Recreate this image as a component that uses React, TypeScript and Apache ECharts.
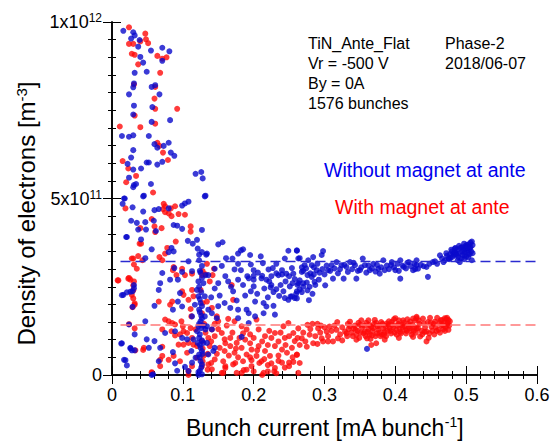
import React, { useEffect, useRef } from "react";
import * as echarts from "echarts";

// y values in units of 1e11 m^-3, x in mA/bunch
const xTicks = [0, 0.1, 0.2, 0.3, 0.4, 0.5, 0.6];
const yTickLabels: Record<number, string> = { 0: "0", 5: "{b|5x10}{s|11}", 10: "{b|1x10}{s|12}" };
const blueMean = 3.21;
const redMean = 1.41;
const meanLineStart = 0.012;

const withoutMagnet: number[][] = [
  [0.016,9.75],[0.030,9.71],[0.032,9.62],[0.027,9.53],[0.039,9.49],[0.037,9.30],[0.055,9.19],[0.071,9.27],[0.081,9.17],[0.040,9.01],[0.044,8.85],[0.071,8.90],[0.032,8.56],[0.049,8.59],[0.031,8.26],[0.030,8.15],[0.056,8.16],[0.061,8.21],[0.024,7.95],[0.067,7.95],[0.031,7.63],[0.057,7.59],[0.030,7.38],[0.056,7.17],[0.082,7.22],[0.014,6.77],[0.024,6.75],[0.030,6.79],[0.052,6.77],[0.060,6.54],[0.064,6.44],[0.073,6.49],[0.080,6.58],[0.030,6.37],[0.027,6.16],[0.083,6.30],[0.088,6.21],[0.022,5.98],[0.049,6.02],[0.052,6.02],[0.064,5.96],[0.071,6.04],[0.030,5.82],[0.041,5.85],[0.024,5.59],[0.118,5.70],[0.126,5.75],[0.128,5.57],[0.031,5.38],[0.030,5.32],[0.055,5.41],[0.131,5.06],[0.017,5.00],[0.044,5.06],
  [0.034,5.41],[0.045,5.08],[0.015,4.85],[0.029,4.75],[0.044,4.63],[0.060,4.67],[0.066,4.70],[0.080,4.72],[0.099,4.80],[0.103,4.86],[0.108,4.91],[0.027,4.37],[0.035,4.31],[0.047,4.33],[0.059,4.37],[0.087,4.25],[0.092,4.23],[0.099,4.14],[0.127,4.11],[0.037,4.12],[0.048,4.12],[0.062,4.08],[0.020,3.91],[0.041,3.84],[0.107,3.80],[0.120,3.83],[0.084,3.60],[0.114,3.72],[0.056,3.56],[0.080,3.48],[0.087,3.50],[0.121,3.58],[0.127,3.48],[0.123,3.41],[0.047,3.31],[0.123,3.25],[0.133,3.41],[0.108,3.22],[0.127,3.09],[0.088,3.03],[0.071,2.89],[0.099,2.92],[0.125,2.90],[0.113,2.94],[0.132,2.83],
  [0.132,5.08],[0.150,3.70],[0.156,3.76],[0.134,3.44],[0.178,3.44],[0.182,3.53],[0.185,3.56],[0.161,3.31],[0.210,3.36],[0.249,3.52],[0.261,3.52],[0.244,3.30],[0.263,3.30],[0.155,3.09],[0.178,3.15],[0.196,3.13],[0.213,3.17],[0.232,3.15],[0.254,3.03],[0.145,3.01],[0.173,2.99],[0.182,2.97],[0.200,2.97],[0.221,2.99],[0.227,3.03],[0.240,2.97],[0.246,2.87],[0.256,2.87],[0.191,2.80],[0.200,2.81],[0.212,2.81],[0.235,2.83],[0.136,2.83],
  [0.016,2.27],[0.021,2.34],[0.029,2.37],[0.031,2.55],[0.060,1.96],[0.086,1.85],[0.093,2.08],[0.099,1.94],[0.068,2.60],[0.066,2.41],[0.082,2.70],[0.122,2.65],[0.120,2.41],[0.122,2.23],[0.125,2.04],[0.123,1.85],[0.126,1.68],[0.125,1.52],[0.122,1.38],[0.120,1.24],[0.123,1.05],[0.121,0.91],[0.125,0.77],[0.123,0.58],[0.125,0.39],[0.126,0.21],[0.127,0.02],[0.024,1.43],[0.047,1.52],[0.032,1.15],[0.049,1.01],[0.013,0.89],[0.026,0.77],[0.028,0.70],[0.052,0.77],[0.060,0.96],[0.068,0.77],[0.075,1.19],[0.089,1.24],[0.099,1.05],[0.106,1.01],[0.086,0.65],[0.019,0.42],[0.021,0.27],[0.066,0.39],[0.089,0.33],[0.103,0.23],[0.113,0.35],[0.108,0.11],[0.093,2.70],[0.096,2.32],[0.117,1.99],[0.113,1.66],[0.115,1.01],[0.112,0.68],[0.118,0.49],[0.129,0.91],[0.132,1.29],[0.131,1.66],[0.131,2.23],
  [0.056,0.0],[0.058,0.02],[0.092,0.12],[0.122,0.0],[0.122,0.08],
  [0.124,2.95],[0.127,2.75],[0.123,2.50],[0.126,2.35],[0.124,2.15],[0.127,1.95],[0.124,1.78],[0.127,1.60],[0.123,1.45],[0.126,1.33],[0.124,1.15],[0.127,0.98],[0.124,0.85],[0.127,0.68],[0.124,0.50],[0.127,0.30],[0.124,0.12],[0.129,2.60],[0.129,1.40],[0.128,0.60],
  [0.014,2.26],[0.021,3.91],[0.018,5.0],[0.014,0.90],[0.017,0.43],[0.026,2.36],[0.031,2.46],[0.029,1.93],[0.026,0.75],[0.032,0.70],
  [0.150,2.60],[0.164,2.65],[0.178,2.70],[0.171,2.37],[0.193,2.74],[0.200,2.70],[0.211,2.74],[0.225,2.55],[0.232,2.43],[0.242,2.37],[0.251,2.51],[0.254,2.23],[0.249,2.13],[0.261,2.37],[0.263,2.60],[0.200,2.51],[0.196,2.37],[0.188,2.25],[0.176,2.11],[0.159,2.04],[0.167,1.90],[0.178,1.85],[0.190,1.85],[0.193,1.75],[0.202,2.08],[0.214,2.04],[0.218,1.94],[0.214,1.75],[0.228,1.96],[0.230,1.71],[0.202,1.66],[0.178,1.61],[0.193,1.47],[0.136,1.85],[0.141,1.75],[0.148,1.61],[0.134,1.38],[0.141,1.29],[0.145,0.77],[0.143,0.68],[0.136,0.58],[0.134,0.91],[0.183,1.08],[0.258,2.18],
  [0.225,2.80],[0.232,2.88],[0.240,2.85],[0.250,2.80],[0.258,2.72],[0.262,2.55],[0.265,2.42],[0.260,2.30],[0.252,2.22],[0.244,2.18],[0.236,2.24],[0.228,2.35],[0.224,2.48],[0.222,2.65],[0.245,2.65],[0.238,2.55],[0.255,2.60],[0.268,2.35],[0.270,2.60],[0.218,2.70],
  [0.145,2.45],[0.152,2.25],[0.160,2.80],[0.168,2.50],[0.185,2.55],[0.205,2.30],[0.215,2.45],[0.220,2.20],[0.170,3.30],[0.195,3.40],[0.206,2.90],[0.140,2.20],[0.150,1.95],
  [0.261,3.53],[0.265,3.31],[0.277,3.25],[0.284,3.34],[0.298,3.51],[0.272,3.11],[0.282,3.11],[0.289,2.97],[0.268,2.92],[0.276,2.83],[0.282,2.78],[0.286,2.64],[0.279,2.50],[0.276,2.40],[0.261,2.17],[0.278,2.12],[0.265,2.68],[0.301,2.54],[0.305,2.97],[0.312,2.73],[0.317,3.20],[0.324,3.11],[0.327,2.73],[0.331,3.06],[0.336,3.20],[0.343,3.11],[0.345,2.73],[0.350,2.97],[0.354,3.30],[0.357,3.11],[0.364,2.97],[0.369,3.15],[0.376,3.01],[0.383,3.25],[0.385,2.97],[0.395,3.20],[0.400,2.97],[0.407,3.25],[0.407,2.73],[0.412,3.06],[0.419,3.20],[0.425,2.97],[0.430,3.11],[0.310,3.11],[0.378,2.87],[0.360,0.74],
  [0.270,2.95],[0.274,3.02],[0.280,2.88],[0.285,3.05],[0.290,3.15],[0.293,2.90],[0.297,3.00],[0.300,2.85],[0.303,3.10],[0.308,2.95],[0.314,3.02],[0.319,2.88],[0.322,3.00],[0.328,3.12],[0.333,2.92],[0.339,3.00],[0.341,3.18],[0.347,2.95],[0.352,3.05],[0.359,2.90],[0.362,3.10],[0.367,3.02],[0.372,2.93],[0.374,3.12],[0.380,3.05],[0.388,3.10],[0.391,3.00],[0.394,3.12],[0.398,3.05],[0.403,3.15],[0.405,2.95],[0.410,3.10],[0.415,3.02],[0.417,3.18],[0.422,3.08],[0.427,3.15],[0.428,3.00],[0.292,2.70],[0.285,2.85],[0.296,3.40],[0.268,3.05],[0.287,2.55],[0.275,2.62],[0.283,2.30],[0.270,2.50],
  [0.430,3.25],[0.432,3.01],[0.444,3.06],[0.453,3.20],[0.446,2.78],[0.463,3.39],[0.470,3.25],[0.475,3.30],[0.482,3.44],[0.484,3.58],[0.489,3.34],[0.491,3.20],[0.494,3.62],[0.498,3.48],[0.501,3.69],[0.505,3.58],[0.508,3.78],[0.508,3.25],[0.503,3.34],[0.486,3.44],
  [0.436,3.12],[0.440,3.08],[0.448,3.15],[0.456,3.22],[0.459,3.15],[0.466,3.30],[0.468,3.20],[0.473,3.38],[0.478,3.32],[0.480,3.50],[0.483,3.40],[0.487,3.55],[0.490,3.45],[0.492,3.60],[0.495,3.40],[0.496,3.55],[0.499,3.65],[0.500,3.35],[0.502,3.52],[0.504,3.70],[0.505,3.42],[0.506,3.62],[0.507,3.50],[0.509,3.68],[0.497,3.28],[0.493,3.30],[0.488,3.25],[0.485,3.60],[0.477,3.42],[0.472,3.45],
  [0.476,3.28],[0.479,3.55],[0.481,3.35],[0.484,3.48],[0.487,3.40],[0.490,3.66],[0.494,3.50],[0.497,3.72],[0.500,3.58],[0.503,3.45],[0.506,3.75],[0.509,3.45],[0.502,3.62],[0.498,3.40]
];

const withMagnet: number[][] = [
  [0.024,9.85],[0.047,9.67],[0.048,9.51],[0.051,9.40],[0.024,9.38],[0.030,9.38],[0.040,9.45],[0.028,9.10],[0.032,9.07],[0.064,9.04],[0.071,8.96],[0.077,9.00],[0.037,8.80],[0.068,8.56],[0.031,8.23],[0.061,8.16],[0.060,7.83],[0.061,7.54],[0.092,7.54],[0.032,7.35],[0.061,7.12],[0.011,7.04],[0.040,7.02],[0.064,6.58],[0.067,6.49],[0.072,6.30],[0.015,6.06],[0.079,6.09],[0.023,5.85],[0.034,5.64],[0.020,5.46],[0.058,5.17],
  [0.019,4.72],[0.073,4.85],[0.075,4.78],[0.072,4.70],[0.089,4.78],[0.083,4.72],[0.075,4.61],[0.080,4.58],[0.094,4.56],[0.084,4.50],[0.103,4.54],[0.056,4.42],[0.111,4.21],[0.040,4.16],[0.060,4.21],[0.070,4.16],[0.061,4.05],[0.111,4.06],[0.041,3.72],[0.090,3.78],[0.078,3.60],[0.075,3.44],[0.067,3.34],[0.037,3.37],[0.028,3.30],[0.043,3.25],[0.071,3.25],[0.031,3.13],[0.087,3.06],[0.099,3.01],[0.086,2.97],[0.113,2.87],[0.128,2.94],[0.091,2.83],[0.103,2.83],[0.024,2.75],[0.127,2.83],
  [0.134,3.15],[0.144,3.01],[0.132,2.85],[0.142,2.83],
  [0.008,2.68],[0.026,2.70],[0.031,2.65],[0.028,2.27],[0.032,1.99],[0.029,1.92],[0.066,2.08],[0.082,1.99],[0.085,2.08],[0.099,2.37],[0.101,2.27],[0.108,2.13],[0.113,2.41],[0.115,2.23],[0.111,1.87],[0.112,1.66],[0.075,1.57],[0.080,1.52],[0.085,1.47],[0.089,1.43],[0.098,1.52],[0.100,1.38],[0.071,1.29],[0.084,1.24],[0.089,1.12],[0.096,1.15],[0.101,1.24],[0.106,1.19],[0.111,1.33],[0.118,1.29],[0.094,0.86],[0.101,0.86],[0.108,0.91],[0.115,0.86],[0.120,0.82],[0.127,0.96],[0.113,1.05],[0.045,0.77],[0.071,0.80],[0.071,0.54],[0.068,0.25],[0.087,0.54],[0.096,0.39],[0.106,0.63],[0.113,0.25],[0.120,0.49],[0.127,0.25],[0.129,0.54],[0.056,0.06],[0.127,1.75],[0.128,2.04],[0.125,2.41],
  [0.009,2.68],[0.023,2.73],[0.030,2.54],[0.030,2.40],[0.030,2.17],[0.032,2.03],[0.024,1.44],[0.032,1.32],[0.033,0.70],[0.044,0.71],[0.035,3.01],[0.030,3.30],[0.039,3.72],
  [0.056,0.08],[0.068,0.43],[0.080,0.43],[0.108,0.11],[0.108,0.0],[0.128,0.39],[0.135,0.15],[0.140,0.34],[0.157,0.06],[0.160,0.25],[0.174,0.34],[0.176,0.06],[0.186,0.14],[0.197,0.42],[0.200,0.10],[0.208,0.34],[0.212,0.0],[0.220,0.28],[0.229,0.10],[0.235,0.40],[0.250,0.35],[0.230,0.20],[0.220,0.10],
  [0.138,2.65],[0.169,2.55],[0.171,2.13],[0.164,1.59],[0.148,1.66],[0.150,1.52],[0.141,1.90],[0.134,2.08],[0.173,1.52],[0.204,1.57],[0.183,1.38],[0.190,1.29],[0.195,1.15],[0.207,1.29],[0.216,1.10],[0.225,1.05],[0.230,1.19],[0.242,1.38],[0.249,1.47],[0.256,1.19],[0.244,1.05],[0.258,0.96],[0.141,1.29],[0.145,1.10],[0.155,1.19],[0.159,1.01],[0.167,1.05],[0.176,0.91],[0.136,1.05],[0.138,0.82],[0.152,0.77],[0.159,0.68],[0.167,0.82],[0.173,0.63],[0.183,0.77],[0.190,0.58],[0.197,0.72],[0.204,0.54],[0.207,0.82],[0.216,0.68],[0.223,0.54],[0.230,0.82],[0.240,0.72],[0.247,0.63],[0.254,0.77],[0.261,0.58],[0.145,0.44],[0.157,0.39],[0.171,0.30],[0.185,0.39],[0.197,0.25],[0.211,0.39],[0.225,0.33],[0.240,0.35],[0.244,0.21],[0.256,0.37],[0.136,0.30],[0.141,0.16],[0.155,0.06],[0.183,0.06],[0.214,0.06],[0.263,0.06],
  [0.150,1.30],[0.162,1.40],[0.170,1.20],[0.180,1.05],[0.188,1.00],[0.195,0.90],[0.200,1.05],[0.212,0.95],[0.220,0.85],[0.235,0.95],[0.238,1.20],[0.250,1.10],[0.262,1.05],[0.265,0.85],[0.255,0.50],[0.235,0.55],[0.215,0.45],[0.195,0.50],[0.178,0.50],[0.165,0.55],[0.148,0.60],[0.140,0.95],[0.132,1.20],[0.135,0.60],[0.128,0.75],[0.130,1.45],[0.185,1.18],[0.222,1.25],[0.245,0.85],[0.205,0.70],[0.160,0.90],[0.175,0.75],[0.145,1.45],[0.160,0.20],[0.190,0.15],[0.232,0.05],[0.250,0.25],
  [0.263,1.32],[0.268,1.04],[0.276,1.42],[0.279,1.14],[0.284,0.90],[0.291,1.32],[0.296,1.04],[0.303,1.23],[0.307,1.37],[0.312,0.95],[0.317,1.28],[0.319,1.04],[0.329,1.23],[0.336,1.51],[0.341,1.32],[0.345,1.14],[0.350,1.42],[0.357,1.23],[0.360,1.04],[0.366,1.37],[0.371,1.56],[0.376,1.28],[0.381,1.14],[0.388,1.46],[0.392,1.32],[0.400,1.61],[0.402,1.14],[0.409,1.42],[0.414,1.28],[0.421,1.51],[0.423,1.14],[0.430,1.65],[0.430,1.32],[0.265,0.34],[0.261,0.57],[0.366,0.85],[0.373,0.90],
  [0.270,1.20],[0.273,0.95],[0.280,1.30],[0.287,1.10],[0.290,1.45],[0.294,1.20],[0.298,0.95],[0.300,1.35],[0.305,1.10],[0.310,1.25],[0.314,1.40],[0.322,1.15],[0.325,1.35],[0.332,1.10],[0.334,1.30],[0.338,1.20],[0.343,1.40],[0.347,1.25],[0.349,1.05],[0.353,1.35],[0.355,1.18],[0.359,1.48],[0.362,1.30],[0.364,1.15],[0.368,1.25],[0.370,1.45],[0.372,1.10],[0.375,1.38],[0.378,1.20],[0.380,1.50],[0.383,1.32],[0.385,1.22],[0.387,1.10],[0.390,1.42],[0.393,1.25],[0.395,1.50],[0.397,1.35],[0.399,1.20],[0.404,1.45],[0.406,1.30],[0.408,1.18],[0.411,1.55],[0.413,1.38],[0.416,1.25],[0.418,1.45],[0.420,1.32],[0.424,1.42],[0.426,1.25],[0.428,1.55],[0.362,1.55],[0.352,1.55],[0.333,1.45],[0.318,1.50],[0.295,1.40],[0.283,1.45],[0.275,0.80],[0.290,0.88],[0.305,0.95],[0.325,0.98],[0.345,1.00],[0.365,1.02],[0.385,1.00],[0.405,1.05],[0.425,1.08],
  [0.430,1.61],[0.432,1.32],[0.435,1.09],[0.440,1.46],[0.444,1.23],[0.444,0.95],[0.451,1.37],[0.456,1.51],[0.461,1.28],[0.466,1.56],[0.470,1.61],[0.473,1.42],[0.475,1.28],[0.475,1.56],
  [0.434,1.45],[0.437,1.25],[0.439,1.60],[0.442,1.35],[0.446,1.50],[0.448,1.18],[0.449,1.62],[0.452,1.25],[0.454,1.45],[0.457,1.35],[0.459,1.62],[0.462,1.48],[0.463,1.20],[0.465,1.40],[0.468,1.30],[0.469,1.50],[0.471,1.35],[0.472,1.58],[0.474,1.48],[0.438,1.15],[0.447,1.05],[0.455,1.15],
  [0.331,1.18],[0.336,1.38],[0.340,1.10],[0.344,1.28],[0.348,1.48],[0.351,1.20],[0.356,1.40],[0.358,1.10],[0.361,1.22],[0.363,1.42],[0.367,1.12],[0.369,1.33],[0.373,1.48],[0.374,1.18],[0.377,1.40],[0.379,1.10],[0.382,1.45],[0.384,1.15],[0.386,1.38],[0.389,1.25],[0.391,1.52],[0.394,1.18],[0.396,1.42],[0.398,1.58],[0.401,1.28],[0.403,1.40],[0.405,1.55],[0.407,1.22],[0.410,1.35],[0.412,1.48],[0.415,1.18],[0.417,1.58],[0.419,1.38],[0.422,1.25],[0.425,1.60],[0.427,1.35],[0.429,1.20],[0.433,1.55],[0.441,1.22],[0.450,1.48],[0.458,1.25],[0.464,1.55],[0.467,1.42],[0.470,1.25],[0.473,1.62],[0.476,1.40],[0.477,1.52]
];

const annotations = [
  { text: "TiN_Ante_Flat", col: 0, row: 0 },
  { text: "Vr = -500 V", col: 0, row: 1 },
  { text: "By = 0A", col: 0, row: 2 },
  { text: "1576 bunches", col: 0, row: 3 },
  { text: "Phase-2", col: 1, row: 0 },
  { text: "2018/06-07", col: 1, row: 1 },
];

const FONT = '"Liberation Sans", Arial, Helvetica, sans-serif';
const BLUE = "#0a0acc";
const RED = "#ff0a0a";

export default function App() {
  const ref = useRef<HTMLDivElement>(null);
  useEffect(() => {
    if (!ref.current) return;
    const chart = echarts.init(ref.current, null, { renderer: "svg" });
    const tickCommon = {
      axisLine: { show: true, lineStyle: { color: "#000", width: 1.6 } },
      axisTick: { show: true, inside: true, length: 9, lineStyle: { color: "#000", width: 1 } },
      minorTick: { show: true, length: 4, lineStyle: { color: "#000", width: 1 } },
      splitLine: { show: false },
      minorSplitLine: { show: false },
    };
    const xBase = { type: "value", min: 0, max: 0.6, interval: 0.1, ...tickCommon, minorTick: { ...tickCommon.minorTick, splitNumber: 5 } };
    const yBase = { type: "value", min: 0, max: 10, interval: 5, ...tickCommon, minorTick: { ...tickCommon.minorTick, splitNumber: 10 } };
    const labelRich = {
      b: { fontSize: 18, fontFamily: FONT, color: "#000", lineHeight: 20 },
      s: { fontSize: 12, fontFamily: FONT, color: "#000", lineHeight: 12, verticalAlign: "top" },
    };
    const xNameRich = {
      n: { fontSize: 23, fontFamily: FONT, color: "#000", lineHeight: 25 },
      m: { fontSize: 14, fontFamily: FONT, color: "#000", lineHeight: 14, verticalAlign: "top" },
    };
    const yNameRich = {
      n: { fontSize: 24, fontFamily: FONT, color: "#000", lineHeight: 26 },
      m: { fontSize: 15, fontFamily: FONT, color: "#000", lineHeight: 15, verticalAlign: "top" },
    };
    const colX = [308, 445];
    const rowY = [43, 63, 83, 103];
    chart.setOption({
      animation: false,
      backgroundColor: "#fff",
      grid: { left: 112, right: 21, top: 22, bottom: 67 },
      xAxis: [
        {
          ...xBase,
          position: "bottom",
          axisLabel: {
            show: true, margin: 11, fontSize: 18, fontFamily: FONT, color: "#000",
            formatter: (v: number) => (xTicks.includes(Math.round(v * 10) / 10) ? String(Math.round(v * 10) / 10) : ""),
          },
          name: "{n|Bunch current [mA bunch}{m|-1}{n|]}",
          nameLocation: "middle",
          nameGap: 40,
          nameTextStyle: { rich: xNameRich },
        },
        { ...xBase, position: "top", axisLabel: { show: false } },
      ],
      yAxis: [
        {
          ...yBase,
          position: "left",
          axisLabel: {
            show: true, margin: 10, fontSize: 18, fontFamily: FONT, color: "#000",
            formatter: (v: number) => yTickLabels[v] ?? "",
            rich: labelRich,
          },
          name: "{n|Density of electrons [m}{m|-3}{n|]}",
          nameLocation: "middle",
          nameGap: 72,
          nameRotate: 90,
          nameTextStyle: { rich: yNameRich, padding: [0, 30, 0, 0] },
        },
        { ...yBase, position: "right", axisLabel: { show: false } },
      ],
      series: [
        {
          type: "scatter",
          data: withMagnet,
          symbol: "circle",
          symbolSize: 6,
          itemStyle: { color: RED },
          markLine: {
            silent: true,
            symbol: ["none", "none"],
            label: { show: false },
            lineStyle: { type: [10, 5], color: "#ff7878", width: 1.5 },
            data: [[{ coord: [meanLineStart, redMean] }, { coord: [0.6, redMean] }]],
          },
        },
        {
          type: "scatter",
          data: withoutMagnet,
          symbol: "circle",
          symbolSize: 6,
          itemStyle: { color: BLUE },
          markLine: {
            silent: true,
            symbol: ["none", "none"],
            label: { show: false },
            lineStyle: { type: [10, 5], color: "#2a2ad0", width: 1.3 },
            data: [[{ coord: [meanLineStart, blueMean] }, { coord: [0.6, blueMean] }]],
          },
        },
      ],
      graphic: [
        ...annotations.map((a) => ({
          type: "text",
          x: colX[a.col],
          y: rowY[a.row],
          style: { text: a.text, font: `16px ${FONT}`, fill: "#000", textAlign: "left", textVerticalAlign: "middle", verticalAlign: "middle" },
        })),
        {
          type: "text", x: 324, y: 170,
          style: { text: "Without magnet at ante", font: `19.5px ${FONT}`, fill: "#0000ee", textVerticalAlign: "middle", verticalAlign: "middle" },
        },
        {
          type: "text", x: 335, y: 207,
          style: { text: "With magnet at ante", font: `19.5px ${FONT}`, fill: "#ff0000", textVerticalAlign: "middle", verticalAlign: "middle" },
        },
      ],
    });
    return () => chart.dispose();
  }, []);
  return <div ref={ref} style={{ position: "fixed", left: 0, top: 0, width: 558, height: 444, background: "#fff" }} />;
}
